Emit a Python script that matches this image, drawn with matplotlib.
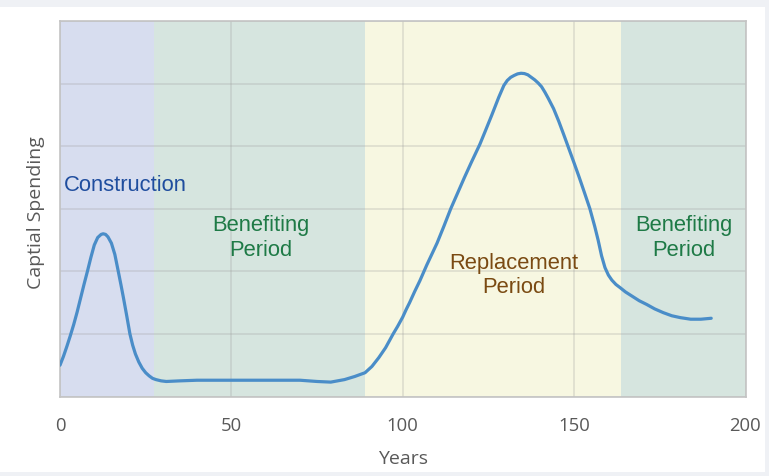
import matplotlib
matplotlib.use('Agg')
import matplotlib.pyplot as plt
from matplotlib.patches import Rectangle

# Capital spending curve (years, relative spending)
years = [0, 1, 2, 3, 4, 5, 6, 7, 8, 9, 10, 11, 12, 12.6, 13.3, 14, 15, 16,
         17, 17.8, 18.5, 19.5, 20.4, 21.2, 22, 23, 24, 25, 26, 27, 28, 29.5,
         31, 35, 40, 50, 60, 70, 75, 79, 83, 86, 89, 91, 93, 95, 96, 97.2,
         98.5, 100, 101, 102, 103.5, 105, 107, 110, 112, 114, 116, 118, 120,
         122.5, 124, 126, 128, 129.5, 130.5, 131.5, 132.5, 133.5, 134.5,
         135.5, 136.5, 137.5, 138.5, 139.5, 140.5, 141.5, 142.5, 144, 145.5,
         147, 148.2, 150, 151.5, 153, 154.6, 156, 157, 158, 159, 160, 161,
         162.2, 163.4, 165, 167, 169, 171.2, 173.5, 176, 178.5, 181, 184,
         187, 190]
spending = [0.5, 0.64, 0.8, 0.97, 1.15, 1.35, 1.57, 1.79, 2.0, 2.22, 2.42,
            2.54, 2.59, 2.6, 2.59, 2.55, 2.45, 2.27, 2.0, 1.78, 1.58, 1.28,
            1.0, 0.82, 0.68, 0.55, 0.45, 0.38, 0.33, 0.29, 0.27, 0.25, 0.24,
            0.25, 0.26, 0.26, 0.26, 0.26, 0.24, 0.23, 0.27, 0.32, 0.38, 0.48,
            0.62, 0.78, 0.88, 1.0, 1.12, 1.27, 1.39, 1.5, 1.68, 1.85, 2.1,
            2.45, 2.72, 3.0, 3.25, 3.5, 3.74, 4.03, 4.23, 4.5, 4.78, 4.97,
            5.05, 5.1, 5.13, 5.155, 5.165, 5.16, 5.14, 5.1, 5.06, 5.01, 4.95,
            4.86, 4.76, 4.6, 4.4, 4.18, 4.0, 3.73, 3.5, 3.26, 3.0, 2.72, 2.5,
            2.25, 2.06, 1.94, 1.86, 1.79, 1.74, 1.67, 1.6, 1.53, 1.47, 1.4,
            1.34, 1.29, 1.26, 1.235, 1.235, 1.25]

# period shading
period_starts = [0, 27.4, 89, 163.7]
period_ends = [27.4, 89, 163.7, 200]
period_colors = ['#d7ddef', '#d6e5df', '#f7f7e1', '#d6e5df']

x_ticks = [0, 50, 100, 150, 200]

fig = plt.figure(figsize=(7.69, 4.77), dpi=100, facecolor='#eff1f5')
fig.patches.append(Rectangle((0, 4 / 477), 765 / 769, 465 / 477,
                             transform=fig.transFigure, facecolor='white',
                             edgecolor='none', zorder=-10))
ax = fig.add_axes([60 / 769, 1 - 397.5 / 477, 685.5 / 769, 375.5 / 477])

for s, e, c in zip(period_starts, period_ends, period_colors):
    ax.axvspan(s, e, facecolor=c, edgecolor='none', zorder=0)

ax.plot(years, spending, color='#4a8dc8', linewidth=2.3, zorder=3,
        solid_capstyle='round', solid_joinstyle='round')

ax.set_xlim(0, 200)
ax.set_ylim(0, 6)
ax.set_xticks(x_ticks)
ax.set_xticklabels([str(t) for t in x_ticks])
ax.set_yticks(range(0, 7))
ax.set_yticklabels([])
ax.tick_params(length=0, pad=14, labelsize=13.3, labelcolor='#595959')
for lab in ax.get_xticklabels():
    lab.set_fontfamily('Open Sans')

ax.set_axisbelow(True)
ax.grid(True, color='#9a9a9a', alpha=0.25, linewidth=1.3)
for sp in ax.spines.values():
    sp.set_color('#c4c4c4')
    sp.set_linewidth(1.2)

fig.text(403 / 769, 1 - 459 / 477, 'Years', ha='center', va='center',
         fontsize=14, color='#595959', family='Open Sans')
fig.text(36 / 769, 1 - 213 / 477, 'Captial Spending', ha='center', va='center',
         rotation=90, fontsize=14, color='#595959', family='Open Sans')

font = dict(family='Liberation Sans', fontsize=15.8, ha='center', va='center')
ax.text(19.0, 3.38, 'Construction', color='#1f4d9e', **font)
ax.text(58.6, 2.55, 'Benefiting\nPeriod', color='#1e7a46', **font)
ax.text(132.5, 1.95, 'Replacement\nPeriod', color='#7a4a12', **font)
ax.text(182.1, 2.55, 'Benefiting\nPeriod', color='#1e7a46', **font)

fig.savefig('out.png', dpi=100, facecolor=fig.get_facecolor())
